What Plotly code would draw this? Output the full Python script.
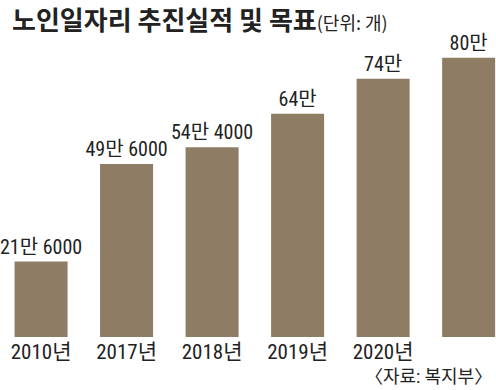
import plotly.graph_objects as go

years = ["2010년", "2017년", "2018년", "2019년", "2020년", "2021년"]
values = [21.6, 49.6, 54.4, 64, 74, 80]
labels = ["21만 6000", "49만 6000", "54만 4000", "64만", "74만", "80만"]

FONT = "Roboto Condensed, Noto Sans CJK KR, sans-serif"
BAR = "#8e7d64"

fig = go.Figure(go.Bar(
    x=list(range(len(years))), y=values, text=labels,
    textposition="outside", cliponaxis=False, constraintext="none",
    textfont=dict(family=FONT, size=20, color="#222"),
    marker=dict(color=BAR, line=dict(width=0)), width=0.62,
    hoverinfo="skip",
))

fig.update_layout(
    width=496, height=390,
    margin=dict(l=0, r=0, t=40, b=53, autoexpand=False),
    plot_bgcolor="white", paper_bgcolor="white",
    showlegend=False,
    xaxis=dict(range=[-0.48, 5.32], tickmode="array", automargin=False,
               tickvals=list(range(len(years))), ticktext=years,
               tickfont=dict(family=FONT, size=21, color="#222"),
               showgrid=False, zeroline=False, showline=False, ticks=""),
    yaxis=dict(range=[0, 85.1], visible=False, automargin=False),
    annotations=[
        dict(text="<b>노인일자리 추진실적 및 목표</b><span style='font-size:18px'>(단위: 개)</span>",
             xref="paper", yref="paper", x=0.02, y=1.0, yshift=42,
             xanchor="left", yanchor="top", showarrow=False,
             font=dict(family="Noto Sans CJK KR", size=26, color="#222")),
        dict(text="〈자료: 복지부〉", xref="paper", yref="paper",
             x=0.995, y=0, yshift=-52, xanchor="right", yanchor="bottom",
             showarrow=False,
             font=dict(family=FONT, size=18, color="#222")),
    ],
)

fig.write_html("out.html", config={"displayModeBar": False},
               post_script="document.body.style.margin='0px';")
